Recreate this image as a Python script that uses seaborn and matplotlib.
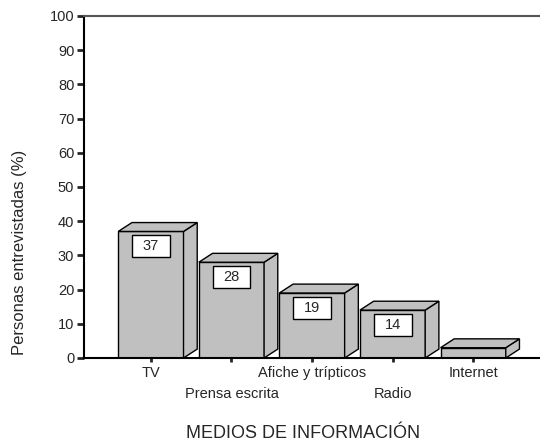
import pandas as pd
import matplotlib.pyplot as plt
import seaborn as sns
from matplotlib.patches import Polygon, Rectangle

# Datos
medios = ["TV", "Prensa escrita", "Afiche y trípticos", "Radio", "Internet"]
porcentajes = [37, 28, 19, 14, 3]
yticks = [0, 10, 20, 30, 40, 50, 60, 70, 80, 90, 100]

FILL = "#c0c0c0"


def plot_medios(data):
    """Barras con efecto 3D de los medios de información."""
    sns.set_style("white")
    plt.rcParams["font.family"] = ["Liberation Sans", "DejaVu Sans"]

    fig = plt.figure(figsize=(5.4, 4.43), dpi=100)
    ax = fig.add_axes([0.1556, 0.1919, 0.8444, 0.7720])

    sns.barplot(x="medio", y="pct", data=data, color=FILL, edgecolor="black",
                linewidth=1, width=0.81, saturation=1, ax=ax)

    # profundidad del efecto 3D
    dx, dy = 0.17, 2.6
    for patch, v in zip(ax.patches, data["pct"]):
        x0 = patch.get_x()
        w = patch.get_width()
        x1 = x0 + w
        side = Polygon([(x1, 0), (x1 + dx, dy), (x1 + dx, v + dy), (x1, v)],
                       closed=True, fc=FILL, ec="black", lw=1, clip_on=False)
        top = Polygon([(x0, v), (x0 + dx, v + dy), (x1 + dx, v + dy), (x1, v)],
                      closed=True, fc=FILL, ec="black", lw=1, clip_on=False)
        ax.add_patch(side)
        ax.add_patch(top)
        if v >= 10:
            cx = x0 + w / 2
            bw, bh = 0.47, 6.4
            ax.add_patch(Rectangle((cx - bw / 2, v - 4.3 - bh / 2), bw, bh,
                                   fc="white", ec="black", lw=1, zorder=5))
            ax.text(cx, v - 4.3, str(v), ha="center", va="center",
                    fontsize=10.5, zorder=6)

    ax.set_xlim(-0.83, 4.83)
    ax.set_ylim(0, 100)
    ax.set_yticks(yticks)
    ax.set_yticklabels([str(t) for t in yticks], fontsize=10.5)

    # etiquetas en dos filas: pares arriba, impares abajo
    pos = list(range(len(medios)))
    ax.set_xticks(pos[0::2])
    ax.set_xticklabels(medios[0::2], fontsize=10.5)
    ax.set_xticks(pos[1::2], minor=True)
    ax.set_xticklabels(medios[1::2], minor=True, fontsize=10.5)

    ax.tick_params(axis="y", direction="out", length=5, width=2, pad=2, left=True)
    ax.tick_params(axis="x", which="major", direction="out", length=3, width=2,
                   pad=3, bottom=True)
    ax.tick_params(axis="x", which="minor", direction="out", length=3, width=2,
                   pad=18, bottom=True)

    ax.set_xlabel("MEDIOS DE INFORMACIÓN", fontsize=13)
    ax.xaxis.set_label_coords(0.48, -0.195)
    ax.set_ylabel("Personas entrevistadas (%)", fontsize=12)
    ax.yaxis.set_label_coords(-0.125, 0.31)

    for s in ["left", "bottom"]:
        ax.spines[s].set_color("black")
        ax.spines[s].set_linewidth(1.5)
    ax.spines["top"].set_color("#555555")
    ax.spines["top"].set_linewidth(1.5)
    ax.spines["right"].set_visible(False)

    fig.savefig("out.png", dpi=100)


if __name__ == "__main__":
    df = pd.DataFrame({"medio": medios, "pct": porcentajes})
    plot_medios(df)
